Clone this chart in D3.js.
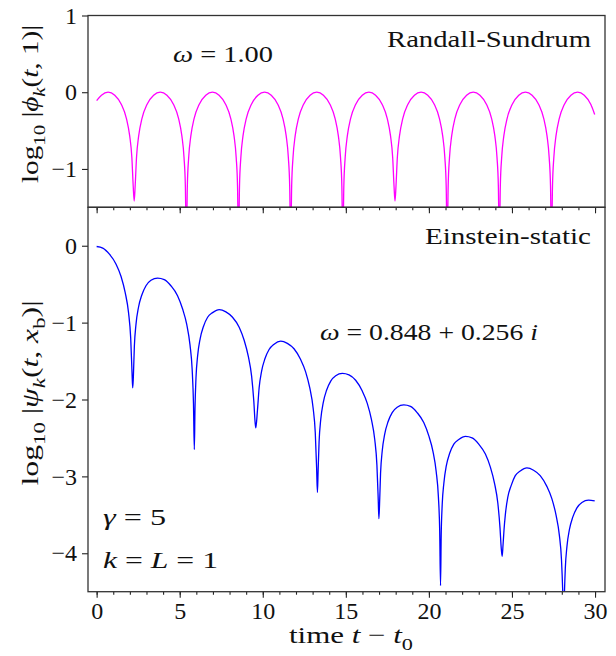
<!DOCTYPE html>
<html>
<head>
<meta charset="utf-8">
<script src="https://cdn.jsdelivr.net/npm/d3@7"></script>
<style>
  body { margin: 0; background: #fff; }
</style>
</head>
<body>
<div id="chart"></div>
<script>
// Randall-Sundrum mode, log10 |phi_k(t,1)|
const rsTime = [0, 0.29, 0.69, 1.09, 1.49, 1.79, 1.99, 2.12, 2.20, 2.26,
  2.32, 2.40, 2.53, 2.73, 3.03, 3.43, 3.83, 4.23, 4.63, 4.93, 5.13, 5.26, 5.34, 5.40,
  5.46, 5.54, 5.67, 5.87, 6.17, 6.57, 6.97, 7.37, 7.77, 8.07, 8.27, 8.40, 8.48, 8.54,
  8.60, 8.68, 8.81, 9.01, 9.31, 9.71, 10.11, 10.51, 10.91, 11.21, 11.41, 11.54, 11.62, 11.68,
  11.74, 11.82, 11.95, 12.15, 12.45, 12.85, 13.25, 13.65, 14.05, 14.35, 14.55, 14.68, 14.76, 14.82,
  14.88, 14.96, 15.09, 15.29, 15.59, 15.99, 16.39, 16.79, 17.19, 17.49, 17.69, 17.82, 17.90, 17.96,
  18.02, 18.10, 18.23, 18.43, 18.73, 19.13, 19.53, 19.93, 20.33, 20.63, 20.83, 20.96, 21.04, 21.10,
  21.16, 21.24, 21.37, 21.57, 21.87, 22.27, 22.67, 23.07, 23.47, 23.77, 23.97, 24.10, 24.18, 24.24,
  24.30, 24.38, 24.51, 24.71, 25.01, 25.41, 25.81, 26.21, 26.61, 26.91, 27.11, 27.24, 27.32, 27.38,
  27.44, 27.52, 27.65, 27.85, 28.15, 28.55, 28.95, 29.35, 29.75, 29.98];
const rsLog = [-0.11, -0.04, 0, -0.04, -0.16, -0.34, -0.57, -0.85, -1.22, -1.42,
  -1.22, -0.85, -0.57, -0.34, -0.16, -0.04, 0, -0.04, -0.16, -0.34, -0.57, -0.85, -1.22, -2,
  -1.22, -0.85, -0.57, -0.34, -0.16, -0.04, 0, -0.04, -0.16, -0.34, -0.57, -0.85, -1.22, -2,
  -1.22, -0.85, -0.57, -0.34, -0.16, -0.04, 0, -0.04, -0.16, -0.34, -0.57, -0.85, -1.22, -2,
  -1.22, -0.85, -0.57, -0.34, -0.16, -0.04, 0, -0.04, -0.16, -0.34, -0.57, -0.85, -1.22, -2,
  -1.22, -0.85, -0.57, -0.34, -0.16, -0.04, 0, -0.04, -0.16, -0.34, -0.57, -0.85, -1.22, -1.42,
  -1.22, -0.85, -0.57, -0.34, -0.16, -0.04, 0, -0.04, -0.16, -0.34, -0.57, -0.85, -1.22, -2,
  -1.22, -0.85, -0.57, -0.34, -0.16, -0.04, 0, -0.04, -0.16, -0.34, -0.57, -0.85, -1.22, -2,
  -1.22, -0.85, -0.57, -0.34, -0.16, -0.04, 0, -0.04, -0.16, -0.34, -0.57, -0.85, -1.22, -2,
  -1.22, -0.85, -0.57, -0.34, -0.16, -0.04, 0, -0.04, -0.16, -0.29];

// Einstein-static mode, log10 |psi_k(t,x_b)|
const esTime = [0, 0.37, 0.77, 1.17, 1.47, 1.72, 1.92, 2.05, 2.13, 2.17,
  2.21, 2.27, 2.37, 2.52, 2.72, 2.97, 3.27, 3.67, 4.07, 4.47, 4.87, 5.17, 5.42, 5.62, 5.75, 5.83, 5.88,
  5.92, 5.98, 6.08, 6.23, 6.43, 6.68, 6.98, 7.38, 7.78, 8.18, 8.58, 8.88, 9.13, 9.33, 9.46, 9.54, 9.58,
  9.68, 9.78, 9.93, 10.13, 10.38, 10.68, 11.08, 11.48, 11.88, 12.28, 12.58, 12.83, 13.03, 13.16, 13.24, 13.29,
  13.33, 13.39, 13.49, 13.64, 13.84, 14.09, 14.39, 14.79, 15.19, 15.59, 15.99, 16.29, 16.54, 16.74, 16.87, 16.95, 16.99,
  17.03, 17.09, 17.19, 17.34, 17.54, 17.79, 18.09, 18.49, 18.89, 19.29, 19.69, 19.99, 20.24, 20.44, 20.57, 20.65, 20.70,
  20.74, 20.80, 20.90, 21.05, 21.25, 21.50, 21.80, 22.20, 22.60, 23.00, 23.40, 23.70, 23.95, 24.15, 24.28, 24.35, 24.41,
  24.46, 24.52, 24.60, 24.75, 24.95, 25.20, 25.50, 25.90, 26.30, 26.70, 27.10, 27.40, 27.65, 27.85, 27.98, 28.06, 28.11,
  28.15, 28.21, 28.31, 28.46, 28.66, 28.91, 29.21, 29.61, 29.98];
const esLog = [-0.01, -0.03, -0.11, -0.24, -0.40, -0.61, -0.87, -1.20, -1.65, -1.85,
  -1.71, -1.31, -1.02, -0.80, -0.64, -0.52, -0.45, -0.42, -0.44, -0.52, -0.65, -0.82, -1.02, -1.29, -1.61, -2.06, -2.65,
  -2.12, -1.72, -1.43, -1.21, -1.05, -0.93, -0.87, -0.83, -0.86, -0.93, -1.06, -1.23, -1.44, -1.70, -2.02, -2.30, -2.37,
  -2.14, -1.85, -1.63, -1.47, -1.35, -1.28, -1.24, -1.27, -1.34, -1.48, -1.64, -1.85, -2.11, -2.43, -2.88, -3.21,
  -2.94, -2.55, -2.26, -2.04, -1.88, -1.76, -1.69, -1.66, -1.68, -1.75, -1.89, -2.05, -2.26, -2.52, -2.85, -3.30, -3.55,
  -3.36, -2.96, -2.67, -2.45, -2.29, -2.17, -2.10, -2.07, -2.09, -2.17, -2.30, -2.47, -2.67, -2.94, -3.26, -3.71, -4.42,
  -3.77, -3.37, -3.09, -2.86, -2.70, -2.58, -2.52, -2.48, -2.50, -2.58, -2.71, -2.88, -3.09, -3.35, -3.67, -3.92, -4.04,
  -3.90, -3.70, -3.50, -3.27, -3.12, -2.99, -2.93, -2.89, -2.92, -2.99, -3.13, -3.29, -3.50, -3.76, -4.08, -4.53, -5.0,
  -4.59, -4.20, -3.91, -3.69, -3.53, -3.41, -3.34, -3.31, -3.32];

const xMajor = [0, 5, 10, 15, 20, 25, 30];
const xMinor = d3.range(0, 31, 1);
const rsTicks = [-1, 0, 1];
const esTicks = [-4, -3, -2, -1, 0];

const width = 616;
const height = 656;
const fs = 24;
const font = '"Liberation Serif", "Times New Roman", serif';
const left = 88, right = 605;

const svg = d3.select("#chart")
  .append("svg")
  .attr("width", width)
  .attr("height", height)
  .attr("font-family", font);

const x = d3.scaleLinear().domain([-0.52, 30.6]).range([left, right]);

// set the serif face both ways so nothing falls back to the axis default
function serif(sel) {
  return sel.attr("font-family", font).style("font-family", font);
}

// write a math-ish label made of roman / italic / subscript pieces
function mathText(parts, attrs, len) {
  const t = serif(svg.append("text"))
    .style("font-size", fs + "px")
    .attr("fill", "#111");
  Object.entries(attrs).forEach(([k, v]) => t.attr(k, v));
  if (len) t.attr("textLength", len).attr("lengthAdjust", "spacingAndGlyphs");
  let shift = 0;
  parts.forEach(([s, kind]) => {
    const sp = t.append("tspan").text(s);
    const sub = kind.indexOf("sub") >= 0;
    const want = sub ? fs * 0.28 : 0;
    if (want - shift !== 0) sp.attr("dy", want - shift);
    shift = want;
    if (sub) sp.style("font-size", (fs * 0.72) + "px");
    if (kind === "i" || kind === "subi") sp.style("font-style", "italic");
  });
  return t;
}

function panel(id, y0, y1, domain, ticks, times, vals, color, withLabels) {
  const y = d3.scaleLinear().domain(domain).range([y1, y0]);
  const g = svg.append("g");

  g.append("clipPath").attr("id", id)
    .append("rect")
    .attr("x", left).attr("y", y0)
    .attr("width", right - left).attr("height", y1 - y0);

  const line = d3.line()
    .x(d => x(d[0]))
    .y(d => y(d[1]))
    .curve(d3.curveMonotoneX);

  g.append("path")
    .datum(times.map((t, i) => [t, vals[i]]))
    .attr("clip-path", `url(#${id})`)
    .attr("fill", "none")
    .attr("stroke", color)
    .attr("stroke-width", 1.3)
    .attr("d", line);

  // minor x ticks
  g.append("g")
    .attr("transform", `translate(0,${y1})`)
    .call(d3.axisBottom(x).tickValues(xMinor).tickSize(3).tickFormat(""))
    .call(a => a.select(".domain").remove());

  // major x ticks
  g.append("g")
    .attr("transform", `translate(0,${y1})`)
    .call(d3.axisBottom(x).tickValues(xMajor).tickSize(6).tickPadding(4)
      .tickFormat(withLabels ? d3.format("d") : ""))
    .call(a => a.select(".domain").remove());

  g.append("g")
    .attr("transform", `translate(${left},0)`)
    .call(d3.axisLeft(y).tickValues(ticks).tickSize(6).tickPadding(5).tickFormat(d3.format("d")))
    .call(a => a.select(".domain").remove());

  g.selectAll("g").call(serif);
  serif(g.selectAll(".tick text"))
    .style("font-size", fs + "px")
    .attr("fill", "#111");
  g.selectAll(".tick line").attr("stroke", "#222").attr("stroke-width", 1.1);

  g.append("rect")
    .attr("x", left).attr("y", y0)
    .attr("width", right - left).attr("height", y1 - y0)
    .attr("fill", "none")
    .attr("stroke", "#333")
    .attr("stroke-width", 1.3);

  return y;
}

panel("clipTop", 15.5, 207.3, [-1.5, 1], rsTicks, rsTime, rsLog, "#ff00ff", false);
panel("clipBot", 207.3, 591.7, [-4.5, 0.5], esTicks, esTime, esLog, "#0000ff", true);

// annotations
mathText([["Randall-Sundrum", "r"]], {x: 591, y: 47, "text-anchor": "end"}, 204);
mathText([["ω", "i"], [" = 1.00", "r"]], {x: 173, y: 62}, 100);
mathText([["Einstein-static", "r"]], {x: 591, y: 244, "text-anchor": "end"}, 166);
mathText([["ω", "i"], [" = 0.848 + 0.256 ", "r"], ["i", "i"]], {x: 320, y: 340}, 218);
mathText([["γ", "i"], [" = 5", "r"]], {x: 103, y: 525}, 63);
mathText([["k", "i"], [" = ", "r"], ["L", "i"], [" = 1", "r"]], {x: 103, y: 568}, 115);

mathText([["time ", "r"], ["t", "i"], [" − ", "r"], ["t", "i"], ["0", "sub"]],
  {x: 351, y: 643, "text-anchor": "middle"}, 124);

mathText(
  [["log", "r"], ["10", "sub"], [" |", "r"], ["ϕ", "i"], ["k", "subi"], ["(", "r"], ["t", "i"], [", 1)|", "r"]],
  {transform: "translate(38,104) rotate(-90)", "text-anchor": "middle"}, 158);
mathText(
  [["log", "r"], ["10", "sub"], [" |", "r"], ["ψ", "i"], ["k", "subi"], ["(", "r"], ["t", "i"], [", ", "r"], ["x", "i"], ["b", "sub"], [")|", "r"]],
  {transform: "translate(38,393) rotate(-90)", "text-anchor": "middle"}, 185);
</script>
</body>
</html>
